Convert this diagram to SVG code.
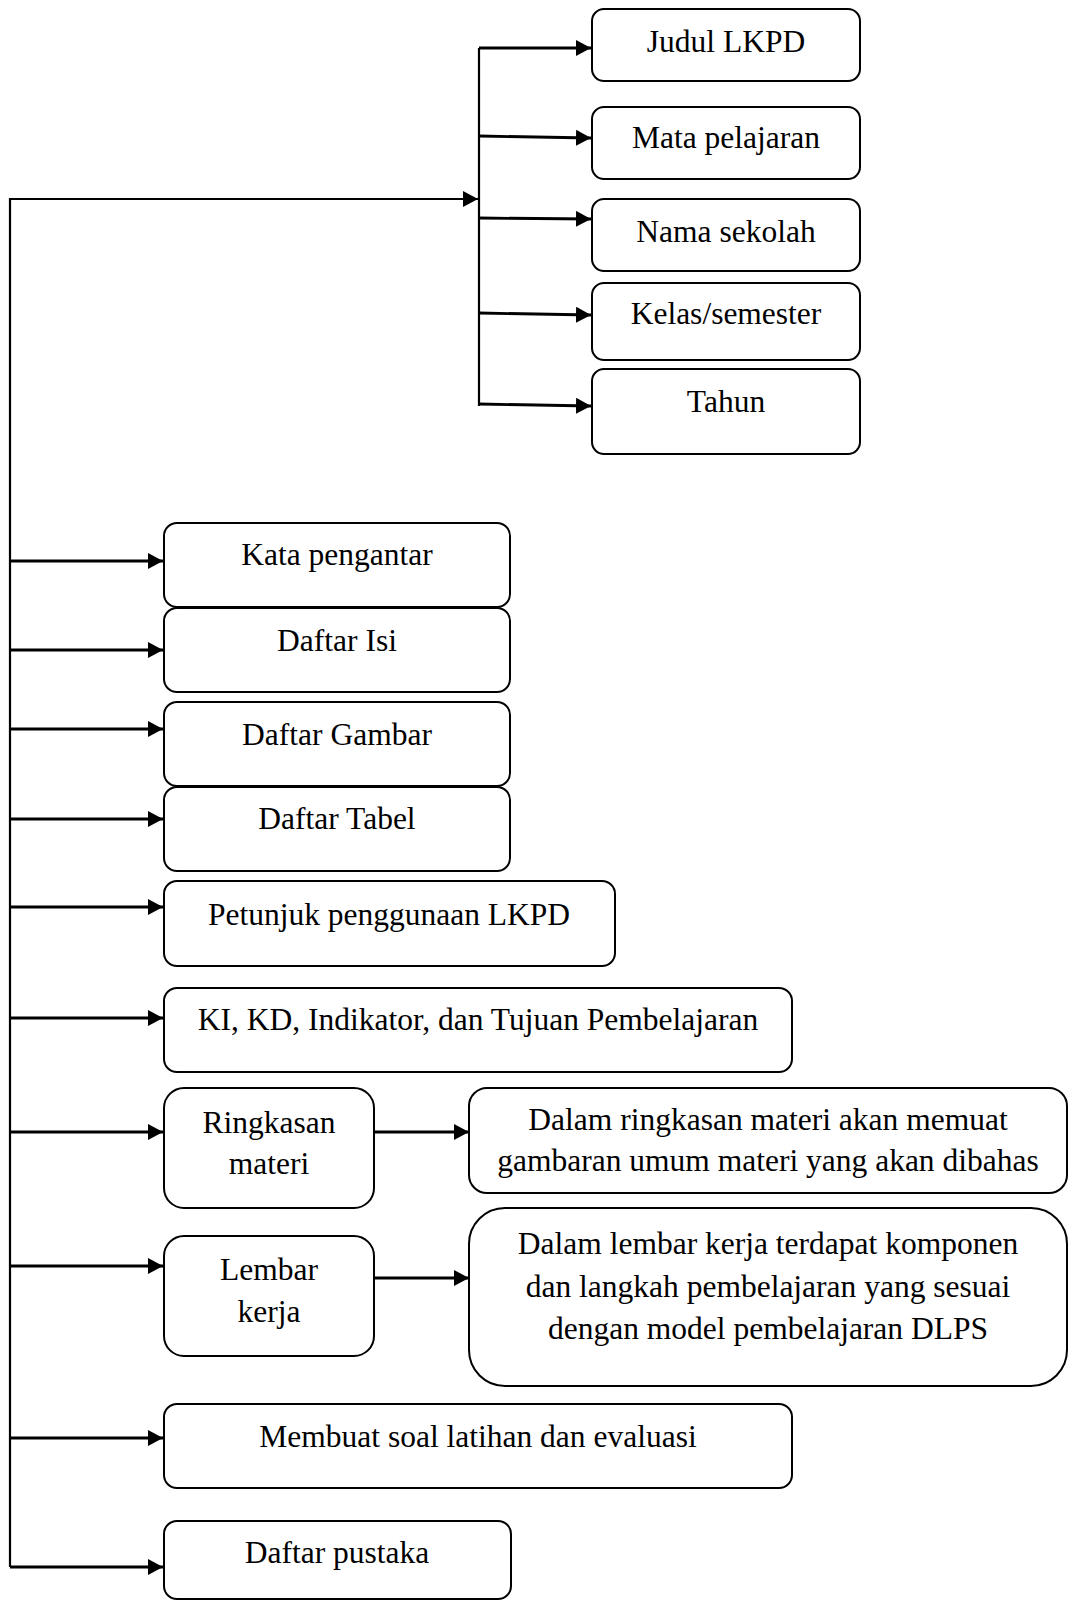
<svg xmlns="http://www.w3.org/2000/svg" width="1068" height="1600" viewBox="0 0 1068 1600">
<style>
.box{fill:#fff;stroke:#000;stroke-width:2}
.t{font-family:"Liberation Serif","Times New Roman",serif;font-size:31.5px;fill:#000;text-anchor:middle}
.c{fill:none;stroke:#000;stroke-width:2.8}
.v{fill:none;stroke:#000;stroke-width:2.2}
</style>
<defs>
<marker id="ah" markerUnits="userSpaceOnUse" markerWidth="17" markerHeight="17" refX="15" refY="8" orient="auto">
<path d="M0,0 L15,8 L0,16 z" fill="#000"/>
</marker>
</defs>
<rect width="1068" height="1600" fill="#fff"/>
<g id="connectors">
<path class="v" d="M10,1567 L10,199 L478,199" marker-end="url(#ah)"/>
<path class="v" d="M479,48 L479,406"/>
<path class="c" d="M479,48 L591,48" marker-end="url(#ah)"/>
<path class="c" d="M479,136 L591,138" marker-end="url(#ah)"/>
<path class="c" d="M479,218 L591,219" marker-end="url(#ah)"/>
<path class="c" d="M479,313 L591,315" marker-end="url(#ah)"/>
<path class="c" d="M479,404 L591,406" marker-end="url(#ah)"/>
<path class="c" d="M10,561 L163,561" marker-end="url(#ah)"/>
<path class="c" d="M10,650 L163,650" marker-end="url(#ah)"/>
<path class="c" d="M10,729 L163,729" marker-end="url(#ah)"/>
<path class="c" d="M10,819 L163,819" marker-end="url(#ah)"/>
<path class="c" d="M10,907 L163,907" marker-end="url(#ah)"/>
<path class="c" d="M10,1018 L163,1018" marker-end="url(#ah)"/>
<path class="c" d="M10,1132 L163,1132" marker-end="url(#ah)"/>
<path class="c" d="M10,1266 L163,1266" marker-end="url(#ah)"/>
<path class="c" d="M10,1438 L163,1438" marker-end="url(#ah)"/>
<path class="c" d="M10,1567 L163,1567" marker-end="url(#ah)"/>
<path class="c" d="M374,1132 L469,1132" marker-end="url(#ah)"/>
<path class="c" d="M374,1278 L469,1278" marker-end="url(#ah)"/>
</g>
<g id="judul"><rect class="box" x="592" y="9" width="268" height="72" rx="12"/><text class="t" x="726" y="52">Judul LKPD</text></g>
<g id="mapel"><rect class="box" x="592" y="107" width="268" height="72" rx="12"/><text class="t" x="726" y="148">Mata pelajaran</text></g>
<g id="sekolah"><rect class="box" x="592" y="199" width="268" height="72" rx="12"/><text class="t" x="726" y="242">Nama sekolah</text></g>
<g id="kelas"><rect class="box" x="592" y="283" width="268" height="77" rx="12"/><text class="t" x="726" y="324">Kelas/semester</text></g>
<g id="tahun"><rect class="box" x="592" y="369" width="268" height="85" rx="12"/><text class="t" x="726" y="412">Tahun</text></g>
<g id="kata"><rect class="box" x="164" y="523" width="346" height="84" rx="13"/><text class="t" x="337" y="565">Kata pengantar</text></g>
<g id="isi"><rect class="box" x="164" y="608" width="346" height="84" rx="13"/><text class="t" x="337" y="651">Daftar Isi</text></g>
<g id="gambar"><rect class="box" x="164" y="702" width="346" height="84" rx="13"/><text class="t" x="337" y="745">Daftar Gambar</text></g>
<g id="tabel"><rect class="box" x="164" y="787" width="346" height="84" rx="13"/><text class="t" x="337" y="829">Daftar Tabel</text></g>
<g id="petunjuk"><rect class="box" x="164" y="881" width="451" height="85" rx="13"/><text class="t" x="389" y="925">Petunjuk penggunaan LKPD</text></g>
<g id="ki"><rect class="box" x="164" y="988" width="628" height="84" rx="13"/><text class="t" x="478" y="1030">KI, KD, Indikator, dan Tujuan Pembelajaran</text></g>
<g id="ringkasan"><rect class="box" x="164" y="1088" width="210" height="120" rx="20"/><text class="t" x="269" y="1133">Ringkasan</text><text class="t" x="269" y="1174">materi</text></g>
<g id="ringkasan-ket"><rect class="box" x="469" y="1088" width="598" height="105" rx="18"/><text class="t" x="768" y="1130">Dalam ringkasan materi akan memuat</text><text class="t" x="768" y="1171">gambaran umum materi yang akan dibahas</text></g>
<g id="lembar"><rect class="box" x="164" y="1236" width="210" height="120" rx="20"/><text class="t" x="269" y="1280">Lembar</text><text class="t" x="269" y="1322">kerja</text></g>
<g id="lembar-ket"><rect class="box" x="469" y="1208" width="598" height="178" rx="36"/><text class="t" x="768" y="1254">Dalam lembar kerja terdapat komponen</text><text class="t" x="768" y="1297">dan langkah pembelajaran yang sesuai</text><text class="t" x="768" y="1339">dengan model pembelajaran DLPS</text></g>
<g id="soal"><rect class="box" x="164" y="1404" width="628" height="84" rx="13"/><text class="t" x="478" y="1447">Membuat soal latihan dan evaluasi</text></g>
<g id="pustaka"><rect class="box" x="164" y="1521" width="347" height="78" rx="13"/><text class="t" x="337" y="1563">Daftar pustaka</text></g>
</svg>
